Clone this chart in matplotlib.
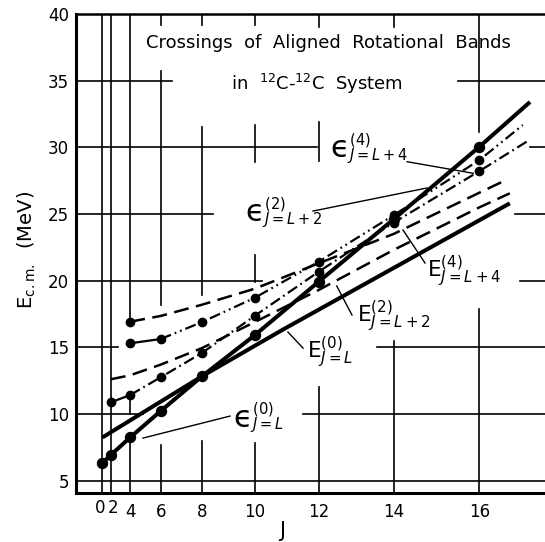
import numpy as np
import matplotlib
matplotlib.use("Agg")
import matplotlib.pyplot as plt
import matplotlib.transforms as mtransforms

plt.rcParams['font.family'] = ['DejaVu Sans']
plt.rcParams['mathtext.fontset'] = 'dejavusans'

# the horizontal axis is linear in J(J+1), labelled with J
j_ticks = [0, 2, 4, 6, 8, 10, 12, 14, 16]
e_ticks = [5, 10, 15, 20, 25, 30, 35, 40]

# exact energies (dots), last pair = where the drawn line stops
eps0_j = [0, 2, 4, 6, 8, 10, 12, 14, 16]
eps0_e = [6.34, 6.92, 8.24, 10.22, 12.84, 15.92, 19.92, 24.6, 30.05]
eps0_tail = (17.07, 33.4)

eps2_j = [2, 4, 6, 8, 10, 12, 14, 16]
eps2_e = [10.87, 11.42, 12.75, 14.59, 17.37, 20.67, 24.35, 28.22]
eps2_tail = (17.0, 30.42)

eps4_j = [4, 6, 8, 10, 12, 14, 16]
eps4_e = [15.3, 15.62, 16.9, 18.72, 21.42, 24.9, 29.05]
eps4_tail = (16.92, 31.67)

# aligned-band estimates
E0_j = [0, 8, 10.9, 16.65]
E0_e = [8.24, 12.84, 16.3, 25.8]
E2_j = [2, 4, 6, 8, 10, 12, 14, 16, 16.65]
E2_e = [12.6, 12.9, 13.7, 14.95, 16.9, 19.3, 22.3, 25.5, 26.55]
E4_j = [4, 6, 8, 10, 12, 14, 16, 16.6]
E4_e = [16.92, 17.35, 18.2, 19.4, 21.3, 23.5, 26.6, 27.6]


def jj(j):
    j = np.asarray(j, dtype=float)
    return j * (j + 1)


XMIN, XMAX = -19.1, 320.7
YMIN, YMAX = 4.07, 40

fig = plt.figure(figsize=(5.45, 5.42), dpi=100)
ax = fig.add_axes([76 / 545, 49 / 542, 471 / 545, 479 / 542])
ax.set_xlim(XMIN, XMAX)
ax.set_ylim(YMIN, YMAX)

# broken grid of the original drawing
hgrid = {
    35: [(XMIN, 50.1), (256.5, XMAX)],
    30: [(XMIN, 154.8), (308.4, XMAX)],
    25: [(XMIN, 79.7), (297.6, XMAX)],
    20: [(XMIN, 115.1), (301.2, XMAX)],
    15: [(XMIN, 11.2), (198, XMAX)],
    10: [(XMIN, 29.2), (144.7, XMAX)],
    5: [(XMIN, XMAX)],
}
vgrid = {
    0: [(YMIN, YMAX)],
    2: [(YMIN, YMAX)],
    4: [(YMIN, 8.2), (10.0, 11.4), (16.9, YMAX)],
    6: [(YMIN, 7.7), (18.2, 35.75), (39.2, YMAX)],
    8: [(YMIN, 8.0), (18.9, 31.5), (39.2, YMAX)],
    10: [(YMIN, 7.8), (19.9, 21.9), (28.9, 31.7), (39.2, YMAX)],
    12: [(YMIN, 12.0), (29.0, 31.9), (39.0, YMAX)],
    14: [(YMIN, 15.5), (39.0, YMAX)],
    16: [(YMIN, 17.9), (31.15, YMAX)],
}
for e, segs in hgrid.items():
    for a, b in segs:
        ax.plot([a, b], [e, e], color='k', lw=1.2, zorder=1)
for j, segs in vgrid.items():
    for a, b in segs:
        ax.plot([jj(j), jj(j)], [a, b], color='k', lw=1.2, zorder=1)

# E lines
ax.plot(jj(E0_j), E0_e, color='k', lw=2.9, solid_capstyle='butt', zorder=3)
ax.plot(jj(E2_j), E2_e, color='k', lw=1.8, dashes=(6, 3), zorder=3)
ax.plot(jj(E4_j), E4_e, color='k', lw=1.8, dashes=(6, 3), zorder=3)
ax.plot(jj(E4_j[:1]), E4_e[:1], 'o', color='k', ms=6, zorder=4)

# epsilon curves
ax.plot(jj(eps0_j + [eps0_tail[0]]), eps0_e + [eps0_tail[1]],
        color='k', lw=2.9, solid_capstyle='butt', zorder=3)
ax.plot(jj(eps0_j), eps0_e, 'o', color='k', ms=7.2, zorder=4)

ax.plot(jj(eps2_j[:2]), eps2_e[:2], color='k', lw=1.6, zorder=3)
ax.plot(jj(eps2_j[1:] + [eps2_tail[0]]), eps2_e[1:] + [eps2_tail[1]],
        color='k', lw=1.6, dashes=(5, 1.8, 0.8, 1.8), zorder=3)
ax.plot(jj(eps2_j), eps2_e, 'o', color='k', ms=6, zorder=4)

ax.plot(jj(eps4_j[:2]), eps4_e[:2], color='k', lw=1.6, zorder=3)
ax.plot(jj(eps4_j[1:] + [eps4_tail[0]]), eps4_e[1:] + [eps4_tail[1]],
        color='k', lw=1.6, dashes=(5, 1.8, 0.8, 1.8, 0.8, 1.8), zorder=3)
ax.plot(jj(eps4_j), eps4_e, 'o', color='k', ms=6, zorder=4)

# E labels: one mathtext string each
E_labels = [
    (r'$\mathrm{E}^{(0)}_{J=L}$', 147.5, 14.68, (144.7, 14.94, 133.8, 16.14)),
    (r'$\mathrm{E}^{(2)}_{J=L+2}$', 183.6, 17.38, (180, 17.42, 169, 19.6)),
    (r'$\mathrm{E}^{(4)}_{J=L+4}$', 234.1, 20.72, (232.7, 21.32, 216.8, 23.8)),
]
for txt, x, y, (x1, y1, x2, y2) in E_labels:
    ax.text(x, y, txt, fontsize=15.5, ha='left', va='center', zorder=5)
    ax.plot([x1, x2], [y1, y2], color='k', lw=1.0, zorder=2)

# epsilon labels: a large epsilon followed by its scripts
eps_labels = [
    (r'${}^{(0)}_{J=L}$', 94.2, 9.66, (92, 9.84, 29.2, 8.19)),
    (r'${}^{(4)}_{J=L+4}$', 164.1, 29.9, (219.8, 28.92, 267.5, 28.05)),
    (r'${}^{(2)}_{J=L+2}$', 102.8, 25.1, (151.9, 25.22, 234.1, 26.95)),
]
for scripts, x, y, (x1, y1, x2, y2) in eps_labels:
    t = ax.text(x, y, 'ϵ', fontsize=22, ha='left', va='center', zorder=5)
    ax.annotate(scripts, xy=(1, 0.5), xycoords=t, xytext=(-1, 0),
                textcoords='offset points', fontsize=15,
                ha='left', va='center', zorder=5)
    ax.plot([x1, x2], [y1, y2], color='k', lw=1.0, zorder=2)

ax.text(163, 37.45, 'Crossings  of  Aligned  Rotational  Bands',
        fontsize=13, ha='center', va='baseline')
ax.text(154.4, 34.3, r'in  $^{12}$C-$^{12}$C  System',
        fontsize=13, ha='center', va='baseline')

# ticks: labels only, the "0" and "2" are nudged apart as in the drawing
ax.set_xticks(jj(j_ticks))
ax.set_xticklabels(['', ''] + [str(j) for j in j_ticks[2:]])
ax.set_yticks(e_ticks)
ax.set_yticklabels([str(e) for e in e_ticks])
ax.tick_params(axis='both', length=0, labelsize=12)
ax.tick_params(axis='x', pad=7)
ax.tick_params(axis='y', pad=5)
xtrans = mtransforms.blended_transform_factory(ax.transData, ax.transAxes)
for j, dx in [(0, -2.5), (2, 2.5)]:
    off = mtransforms.ScaledTranslation(dx / 100, 0, fig.dpi_scale_trans)
    ax.text(jj(j), -0.0315, str(j), transform=xtrans + off, fontsize=12,
            ha='center', va='center')

ax.text(0.437, -0.079, 'J', transform=ax.transAxes, fontsize=15,
        ha='center', va='center')
ax.text(-0.105, 0.507, r'$\mathrm{E}_{\mathrm{c.m.}}$  (MeV)', transform=ax.transAxes,
        fontsize=14, rotation=90, ha='center', va='center')

for side in ['left', 'bottom']:
    ax.spines[side].set_linewidth(2.2)
ax.spines['top'].set_linewidth(1.8)
ax.spines['right'].set_visible(False)

fig.savefig('out.png', dpi=100)
